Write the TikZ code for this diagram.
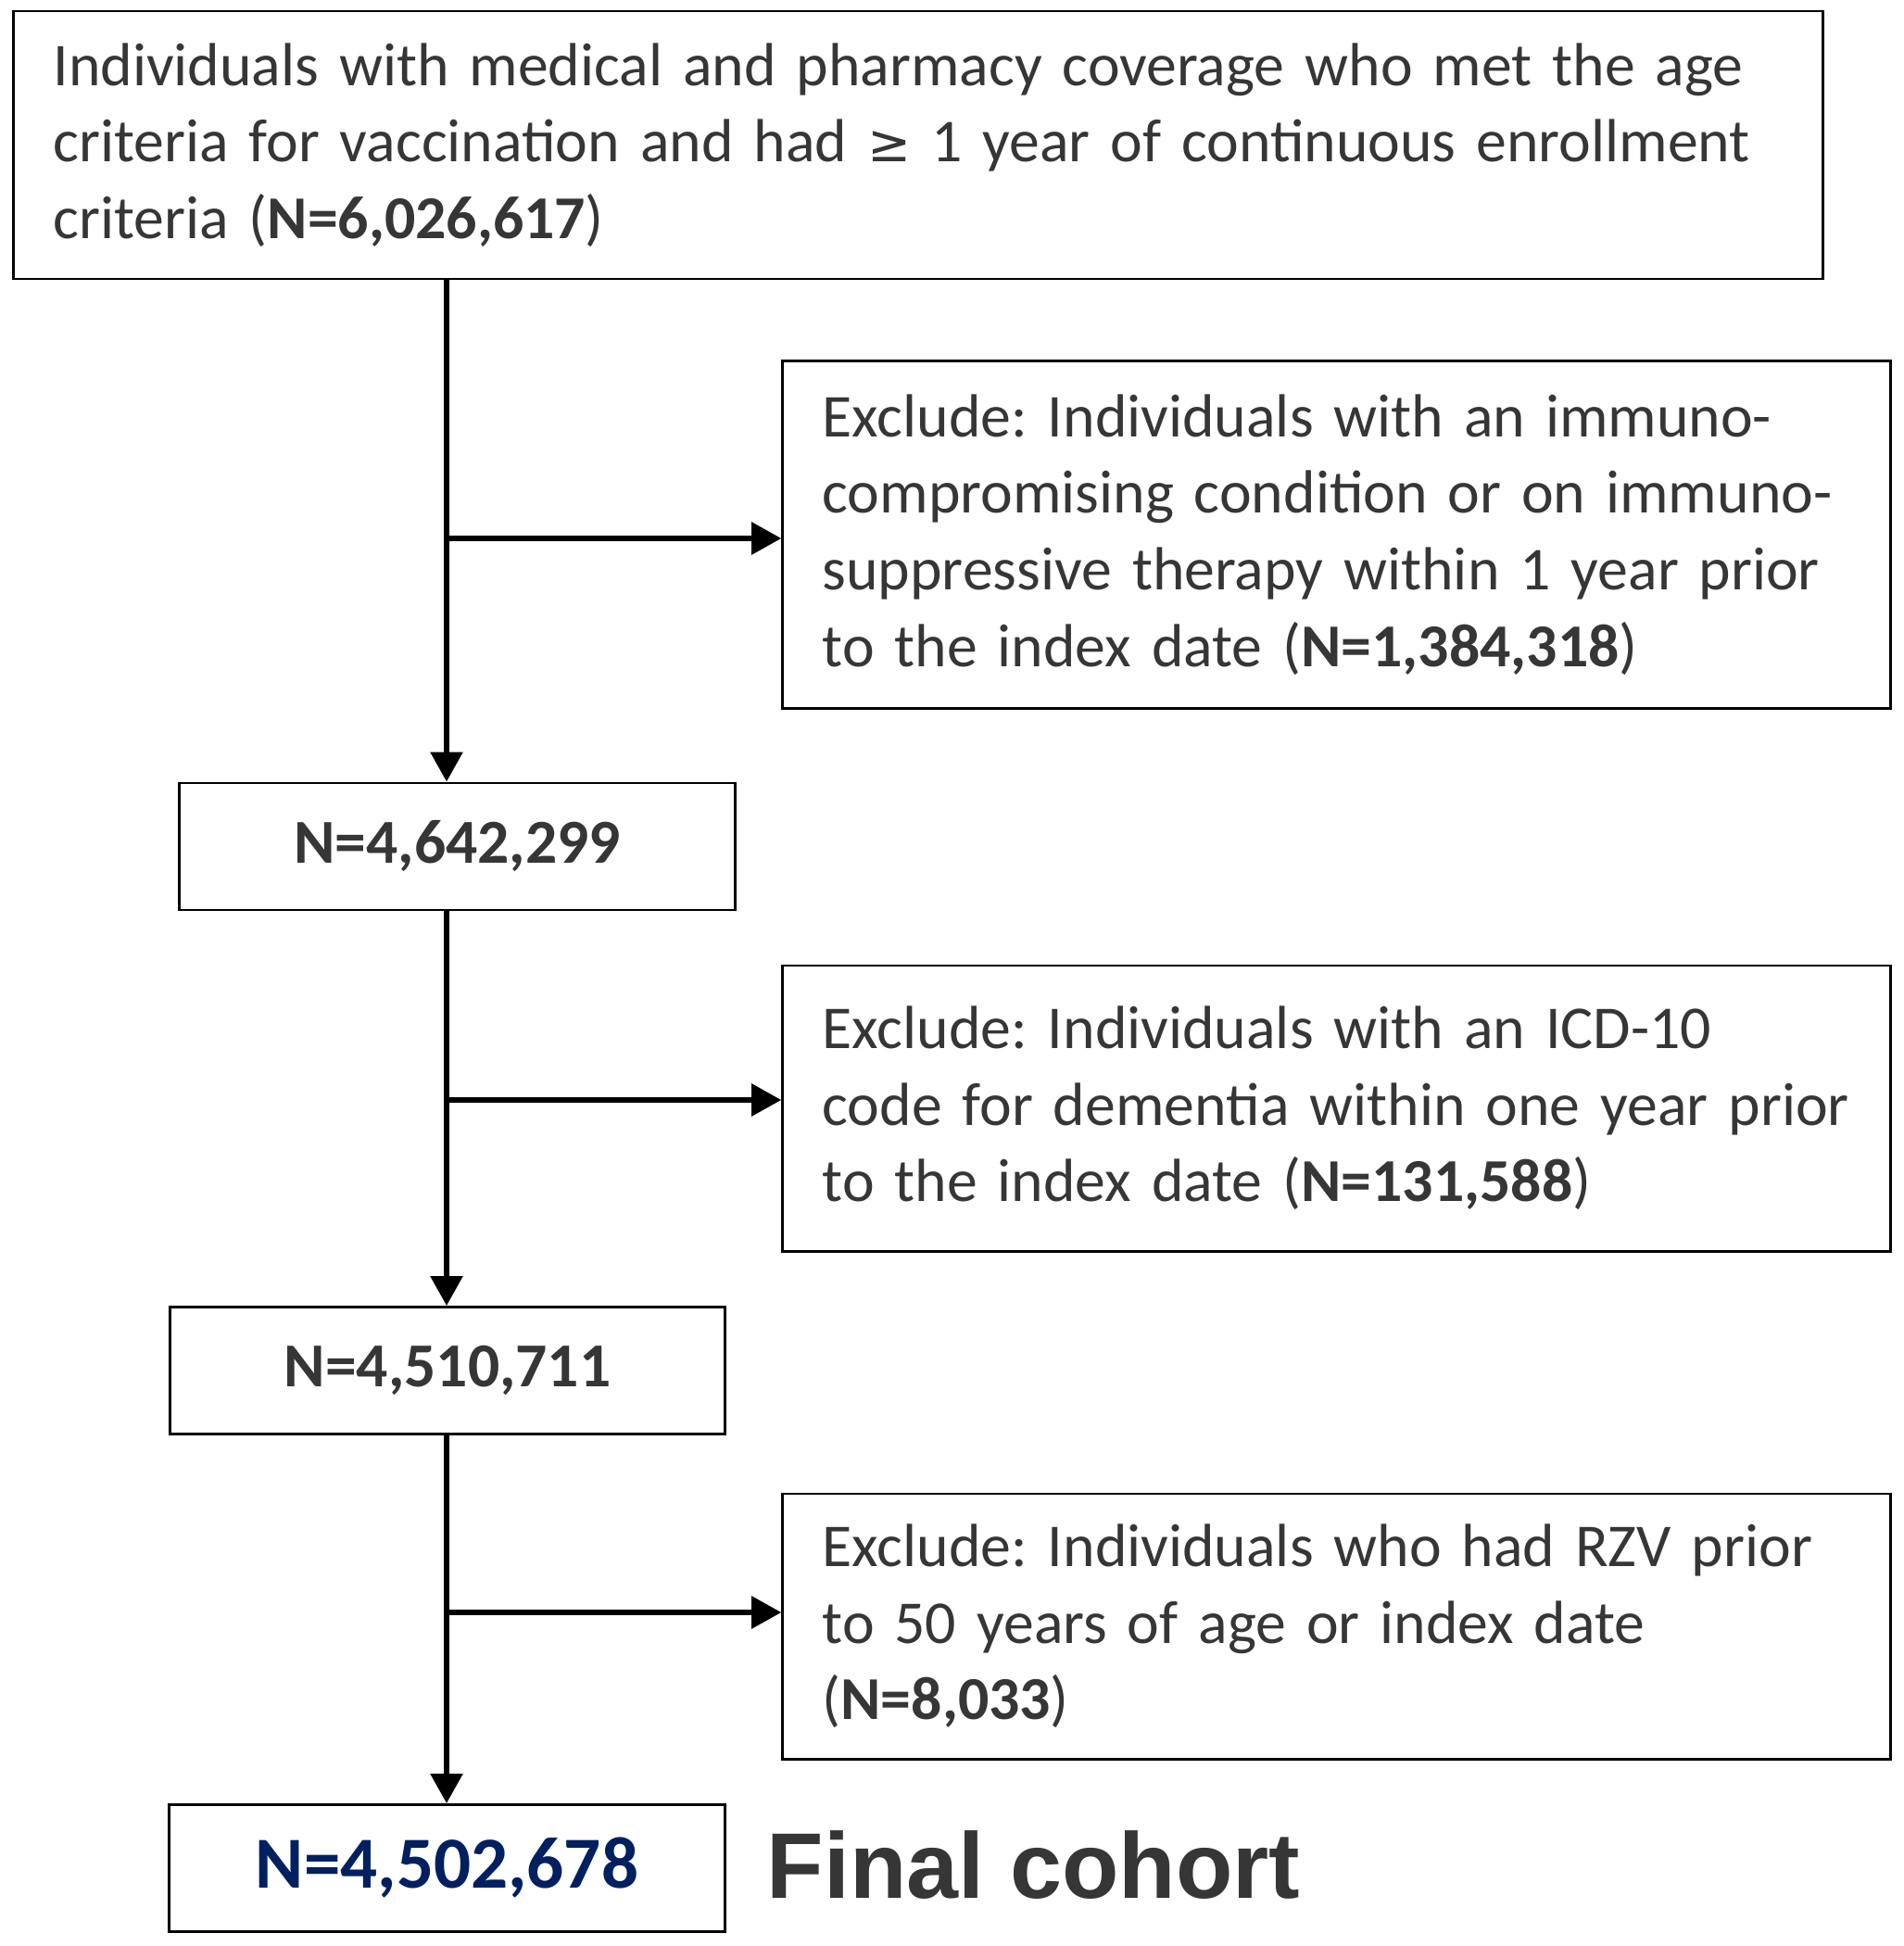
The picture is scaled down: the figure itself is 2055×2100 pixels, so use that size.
\documentclass[tikz,border=0pt]{standalone}
\usepackage{fontspec}
\setmainfont{Carlito}
\newfontfamily\headfont{Liberation Sans}
\newfontfamily\symfont{DejaVu Sans}
\usetikzlibrary{arrows.meta}
\definecolor{txtgray}{HTML}{363636}
\definecolor{cohortblue}{HTML}{002060}
\frenchspacing

\begin{document}
\begin{tikzpicture}[
            x=0.01cm, y=-0.01cm,
            box/.style={draw=black, line width=.8pt, text=txtgray, inner xsep=.43cm, inner ysep=0pt,
                font=\fontsize{18.7}{23.5}\selectfont},
            textbox/.style={box, align=left},
            countbox/.style={box, minimum width=5.99cm, minimum height=1.37cm,
                font=\fontsize{19.2}{24}\selectfont\bfseries},
            flow/.style={line width=1.6pt, draw=black, -{Triangle[length=3.2mm, width=3.4mm]}},
        ]
            \useasboundingbox (0,0) rectangle (2055,2100);

            % starting population
            \node[textbox, text width=18.66cm, minimum height=2.89cm] (start) at (991,156.5)
                {\mbox{Individuals with medical and pharmacy coverage who met the age}\\
                 \mbox{criteria for vaccination and had {\symfont\fontsize{16}{20}\selectfont≥} 1 year of continuous enrollment}\\
                 criteria (\textbf{N=6,026,617})};

            % exclusion steps
            \node[textbox, text width=11.09cm, minimum height=3.74cm] (excl1) at (1442.5,577)
                {\mbox{Exclude: Individuals with an immuno-}\\
                 \mbox{compromising condition or on immuno-}\\
                 \mbox{suppressive therapy within 1 year prior}\\
                 \mbox{to the index date (\textbf{N=1,384,318})}};
            \node[textbox, text width=11.09cm, minimum height=3.08cm] (excl2) at (1442.5,1196)
                {\mbox{Exclude: Individuals with an ICD-10}\\
                 \mbox{code for dementia within one year prior}\\
                 \mbox{to the index date (\textbf{N=131,588})}};
            \node[textbox, text width=11.09cm, minimum height=2.86cm] (excl3) at (1442.5,1755)
                {\mbox{Exclude: Individuals who had RZV prior}\\
                 \mbox{to 50 years of age or index date}\\
                 (\textbf{N=8,033})};

            % remaining counts
            \node[countbox] (left1) at (493.5,913.5) {N=4,642,299};
            \node[countbox] (left2) at (483,1479) {N=4,510,711};
            \node[countbox, text=cohortblue, font=\fontsize{22.5}{26}\selectfont\bfseries] (left3) at (482.5,2016) {N=4,502,678};
            \node[anchor=west, inner sep=0pt, text=txtgray, font=\headfont\bfseries\fontsize{28.6}{32}\selectfont]
                (final) at (827,2013) {Final cohort};

            % main line and branches
            \coordinate (trunk) at (482,0);
            \draw[flow] (start.south -| trunk) -- (left1.north -| trunk);
            \draw[flow] (left1.south -| trunk) -- (left2.north -| trunk);
            \draw[flow] (left2.south -| trunk) -- (left3.north -| trunk);
            \foreach \ex/\yy in {excl1/581, excl2/1187, excl3/1740}{
                \coordinate (branch) at (482,\yy);
                \draw[flow] (branch) -- (branch -| \ex.west);
            }
        \end{tikzpicture}
\end{document}
